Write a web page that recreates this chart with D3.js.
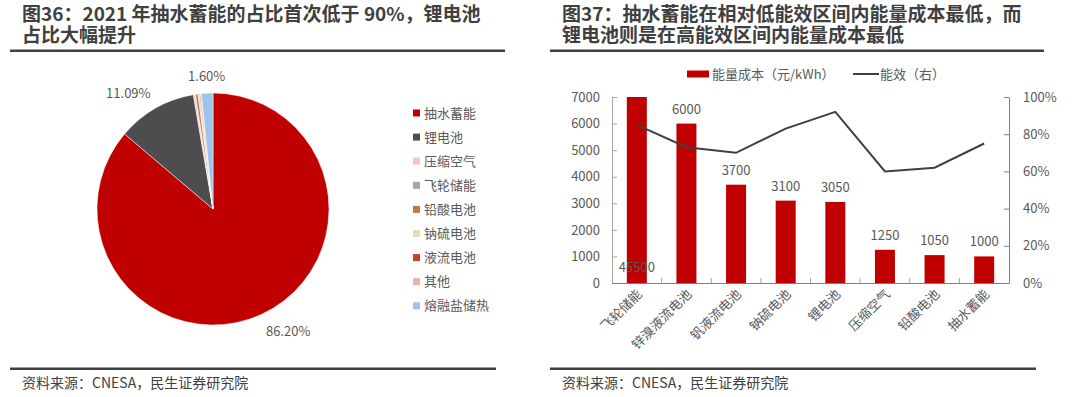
<!DOCTYPE html>
<html>
<head>
<meta charset="utf-8">
<script src="https://cdn.jsdelivr.net/npm/d3@7"></script>
<style>
  body { margin: 0; background: #fff; }
  svg { display: block; font-family: "Noto Sans CJK SC", "Noto Sans", sans-serif; }
</style>
</head>
<body>
<div id="chart"></div>
<script>
// --- data: pie (left panel) ---
const pieCats = ["抽水蓄能", "锂电池", "压缩空气", "飞轮储能", "铅酸电池", "钠硫电池", "液流电池", "其他", "熔融盐储热"];
const pieVals = [86.20, 11.09, 0.25, 0.05, 0.35, 0.20, 0.13, 0.13, 1.60];
const pieLabels = ["86.20%", "11.09%", "", "", "", "", "", "", "1.60%"];
const pieColors = ["#C00000", "#4D4D4F", "#F2C4C6", "#A6A6A6", "#C0784A", "#EAD8B9", "#C9402F", "#EEB1AC", "#9DC3E6"];

// --- data: bar + line (right panel) ---
const techCats = ["飞轮储能", "锌溴液流电池", "钒液流电池", "钠硫电池", "锂电池", "压缩空气", "铅酸电池", "抽水蓄能"];
const costVals = [45500, 6000, 3700, 3100, 3050, 1250, 1050, 1000];
const effVals = [0.85, 0.73, 0.70, 0.83, 0.92, 0.60, 0.62, 0.75];
const costTicks = [0, 1000, 2000, 3000, 4000, 5000, 6000, 7000];
const effTicks = [0, 0.2, 0.4, 0.6, 0.8, 1.0];

const W = 1080, H = 397;
const ink = "#404040", txt = "#595959";

const svg = d3.select("#chart").append("svg")
  .attr("width", W).attr("height", H);

// titles, rules, footers
const titles = [
  { x: 22, lines: ["图36：2021 年抽水蓄能的占比首次低于 90%，锂电池", "占比大幅提升"], rule: [10, 505], foot: [10, 496] },
  { x: 562, lines: ["图37：抽水蓄能在相对低能效区间内能量成本最低，而", "锂电池则是在高能效区间内能量成本最低"], rule: [550, 1044], foot: [550, 1036] }
];
titles.forEach(t => {
  const tt = svg.append("text").attr("y", 21)
    .attr("font-size", 19).attr("font-weight", "bold").attr("fill", ink);
  t.lines.forEach((l, i) => {
    tt.append("tspan").attr("x", t.x).attr("y", 21 + i * 21).text(l);
  });
  svg.append("rect").attr("x", t.rule[0]).attr("y", 49.5)
    .attr("width", t.rule[1] - t.rule[0]).attr("height", 2.5).attr("fill", ink);
  svg.append("rect").attr("x", t.foot[0]).attr("y", 367.5)
    .attr("width", t.foot[1] - t.foot[0]).attr("height", 2.5).attr("fill", ink);
  svg.append("text").attr("x", t.x).attr("y", 388)
    .attr("font-size", 14).attr("fill", ink)
    .text("资料来源：CNESA，民生证券研究院");
});

// ---------- pie ----------
const cx = 213, cy = 209, r = 116;
const pie = d3.pie().sort(null).value(d => d)(pieVals);
const arc = d3.arc().innerRadius(0).outerRadius(r);
const gPie = svg.append("g").attr("transform", `translate(${cx},${cy})`);
gPie.selectAll("path").data(pie).join("path")
  .attr("d", arc)
  .attr("fill", (d, i) => pieColors[i])
  .attr("stroke", "#fff").attr("stroke-width", 0.5);

gPie.selectAll("text.lbl").data(pie).join("text")
  .attr("class", "lbl")
  .each(function(d, i) {
    const a = (d.startAngle + d.endAngle) / 2;
    const sx = Math.sin(a), sy = -Math.cos(a);
    const px = sx * (r + 10), py = sy * (r + 10);
    d3.select(this)
      .attr("x", px)
      .attr("y", sy > 0 ? py + 13 : py - 2)
      .attr("text-anchor", sx > 0.3 ? "start" : (sx < -0.3 ? "end" : "middle"))
      .attr("font-size", 13).attr("fill", txt)
      .text(pieLabels[i]);
  });

// pie legend
const gLeg = svg.append("g");
pieCats.forEach((c, i) => {
  const y = 113 + i * 24.1;
  gLeg.append("rect").attr("x", 413).attr("y", y - 3.5).attr("width", 7).attr("height", 7).attr("fill", pieColors[i]);
  gLeg.append("text").attr("x", 424).attr("y", y + 4.5).attr("font-size", 13).attr("fill", txt).text(c);
});

// ---------- bar + line ----------
const m = { l: 612, r: 1009, t: 97, b: 283 };
const xb = d3.scaleBand().domain(techCats).range([m.l, m.r]);
const yL = d3.scaleLinear().domain([0, 7000]).range([m.b, m.t]).clamp(true);
const yR = d3.scaleLinear().domain([0, 1]).range([m.b, m.t]);
const cxOf = c => xb(c) + xb.bandwidth() / 2;

// bars
svg.selectAll("rect.bar").data(costVals).join("rect")
  .attr("class", "bar")
  .attr("x", (d, i) => cxOf(techCats[i]) - 10)
  .attr("width", 20)
  .attr("y", d => yL(d))
  .attr("height", d => yL(0) - yL(d))
  .attr("fill", "#C00000");

// bar labels
svg.selectAll("text.blbl").data(costVals).join("text")
  .attr("class", "blbl")
  .attr("x", (d, i) => cxOf(techCats[i]))
  .attr("y", d => d > 7000 ? yL(0) - 11 : yL(d) - 10)
  .attr("text-anchor", "middle").attr("font-size", 13).attr("fill", txt)
  .text(d => d);

// line
const line = d3.line()
  .x((d, i) => cxOf(techCats[i]))
  .y(d => yR(d));
svg.append("path").datum(effVals)
  .attr("d", line).attr("fill", "none")
  .attr("stroke", ink).attr("stroke-width", 2);

// axes
const axL = svg.append("g").attr("transform", `translate(${m.l},0)`)
  .call(d3.axisLeft(yL).tickValues(costTicks).tickFormat(d3.format("d")).tickSize(-5).tickPadding(12).tickSizeOuter(0));
const axR = svg.append("g").attr("transform", `translate(${m.r},0)`)
  .call(d3.axisRight(yR).tickValues(effTicks).tickFormat(d3.format(".0%")).tickSize(-5).tickPadding(14).tickSizeOuter(0));
const axB = svg.append("g").attr("transform", `translate(0,${m.b})`)
  .call(d3.axisBottom(xb).tickSize(0).tickSizeOuter(0).tickFormat(""));
// category separator ticks
svg.selectAll("line.sep").data(techCats.slice(1)).join("line")
  .attr("class", "sep")
  .attr("x1", d => xb(d)).attr("x2", d => xb(d))
  .attr("y1", m.b).attr("y2", m.b - 5)
  .attr("stroke", "#A6A6A6");

[axL, axR, axB].forEach(g => {
  g.select(".domain").attr("stroke", "#7F7F7F");
  g.selectAll(".tick line").attr("stroke", "#7F7F7F");
  g.selectAll(".tick text").attr("font-size", 13).attr("fill", txt)
    .attr("font-family", "'Noto Sans CJK SC', sans-serif");
});
axL.select(".domain").attr("stroke", "#A6A6A6");
axL.selectAll(".tick line").attr("stroke", "#A6A6A6");

// rotated x labels
svg.selectAll("text.xl").data(techCats).join("text")
  .attr("class", "xl")
  .attr("transform", d => `translate(${cxOf(d) + 6},${m.b + 12}) rotate(-45)`)
  .attr("text-anchor", "end").attr("font-size", 13).attr("fill", txt)
  .text(d => d);

// right legend
svg.append("rect").attr("x", 687).attr("y", 70.5).attr("width", 22).attr("height", 7).attr("fill", "#C00000");
svg.append("text").attr("x", 712).attr("y", 79).attr("font-size", 13).attr("fill", txt).text("能量成本（元/kWh）");
svg.append("line").attr("x1", 853).attr("x2", 879).attr("y1", 74).attr("y2", 74).attr("stroke", ink).attr("stroke-width", 2);
svg.append("text").attr("x", 880).attr("y", 79).attr("font-size", 13).attr("fill", txt).text("能效（右）");
</script>
</body>
</html>
